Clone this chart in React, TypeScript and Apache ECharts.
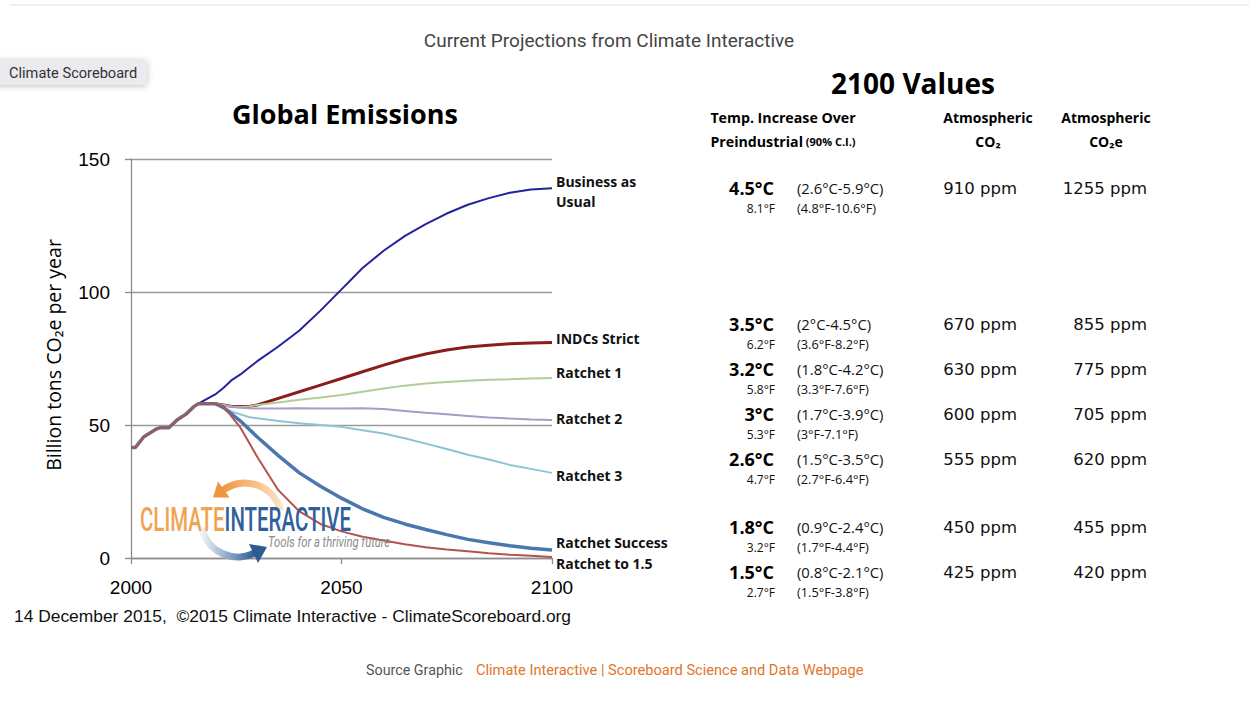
import React, { useEffect, useRef } from "react";
import * as echarts from "echarts";

// ---------- data ----------
const HIST_YEARS = [2000, 2001, 2002, 2003, 2004, 2005, 2006, 2007, 2008, 2009, 2010, 2011, 2012, 2013, 2014, 2015, 2016, 2017, 2018, 2019, 2020];
const HIST_VALUES = [41.5, 41.5, 43.5, 45.5, 46.5, 47.5, 48.5, 49, 49, 49, 50.5, 52, 53, 54, 55.5, 57, 58, 58, 58, 58, 58];

const PROJ_YEARS = [2020, 2022, 2024, 2026, 2028, 2030, 2035, 2040, 2045, 2050, 2055, 2060, 2065, 2070, 2075, 2080, 2085, 2090, 2095, 2100];
const BAU = [61.5, 64, 67, 69, 71.5, 74, 79.5, 85.5, 93, 101, 109, 115.5, 121, 125.5, 129.5, 132.8, 135.3, 137.3, 138.5, 139];
const INDCS_STRICT = [58, 57.5, 57, 57, 57, 57.5, 60, 62.5, 65, 67.5, 70, 72.5, 74.8, 76.7, 78.2, 79.3, 80, 80.5, 80.8, 81];
const RATCHET_1 = [58, 57.5, 57, 56.8, 57, 57.5, 58.5, 59.5, 60.3, 61.3, 62.5, 63.7, 64.8, 65.6, 66.2, 66.6, 67, 67.2, 67.5, 67.7];
const RATCHET_2 = [58, 57.3, 56.8, 56.5, 56.3, 56.2, 56.2, 56.3, 56.2, 56.2, 56.3, 56, 55.3, 54.6, 54, 53.4, 52.8, 52.4, 52.1, 51.9];
const RATCHET_3 = [58, 56.5, 55, 54, 53, 52.5, 51.5, 50.7, 50, 49.3, 48, 46.8, 45, 43, 41, 38.8, 37, 35, 33.5, 32];
const RATCHET_SUCCESS = [58, 56.5, 54, 51.5, 48.5, 45.5, 38.5, 32, 27, 22.5, 18.5, 15.3, 12.8, 10.7, 8.8, 7, 5.7, 4.6, 3.7, 3];
const RATCHET_15 = [58, 57, 53, 49, 43.5, 38, 25.5, 17.5, 12.8, 10, 8, 6.6, 5.2, 4, 3.2, 2.5, 1.8, 1.2, 0.8, 0.4];

const TICKS_X = [2000, 2050, 2100];

// 2100 values table
const TEMP_C = ["4.5°C", "3.5°C", "3.2°C", "3°C", "2.6°C", "1.8°C", "1.5°C"];
const TEMP_C_RANGE = ["(2.6°C-5.9°C)", "(2°C-4.5°C)", "(1.8°C-4.2°C)", "(1.7°C-3.9°C)", "(1.5°C-3.5°C)", "(0.9°C-2.4°C)", "(0.8°C-2.1°C)"];
const TEMP_F = ["8.1°F", "6.2°F", "5.8°F", "5.3°F", "4.7°F", "3.2°F", "2.7°F"];
const TEMP_F_RANGE = ["(4.8°F-10.6°F)", "(3.6°F-8.2°F)", "(3.3°F-7.6°F)", "(3°F-7.1°F)", "(2.7°F-6.4°F)", "(1.7°F-4.4°F)", "(1.5°F-3.8°F)"];
const CO2 = ["910 ppm", "670 ppm", "630 ppm", "600 ppm", "555 ppm", "450 ppm", "425 ppm"];
const CO2E = ["1255 ppm", "855 ppm", "775 ppm", "705 ppm", "620 ppm", "455 ppm", "420 ppm"];

// ---------- layout ----------
const ROW_Y = [188, 324, 369, 414, 459, 527, 572];
const OS = "'Open Sans', 'Noto Sans', sans-serif";
const ARIAL = "'Liberation Sans', Arial, sans-serif";
const ROBOTO = "Roboto, 'Liberation Sans', sans-serif";
const DV = "'DejaVu Sans', sans-serif";

function pairs(xs: number[], ys: number[]) {
  return xs.map((x, i) => [x, ys[i]]);
}

function txt(x: number, y: number, text: string, o: any = {}) {
  const align = o.align || "left";
  const v = o.verticalAlign || "middle";
  return {
    type: "text",
    x,
    y,
    z: 100,
    scaleX: o.scaleX || 1,
    style: {
      text,
      fill: o.fill || "#000",
      fontSize: o.fontSize || 14,
      fontFamily: o.fontFamily || OS,
      fontWeight: o.fontWeight || "normal",
      fontStyle: o.fontStyle || "normal",
      align,
      verticalAlign: v,
      textAlign: align,
      textVerticalAlign: v,
      rich: o.rich,
    },
  };
}

const rad = (d: number) => (d * Math.PI) / 180;

export default function App() {
  const ref = useRef<HTMLDivElement>(null);

  useEffect(() => {
    if (!ref.current) return;
    const chart = echarts.init(ref.current, undefined, { renderer: "svg" });

    const histPairs = pairs(HIST_YEARS, HIST_VALUES);
    const bauData = histPairs.filter((p) => p[0] <= 2016).concat(pairs(PROJ_YEARS, BAU));

    const mk = (name: string, data: any[], color: string, width: number, dy: number, formatter?: string) => ({
      name,
      type: "line",
      data,
      showSymbol: false,
      symbol: "none",
      lineStyle: { color, width },
      itemStyle: { color },
      emphasis: { disabled: true },
      endLabel: {
        show: true,
        formatter: formatter || name,
        distance: 4,
        offset: [0, dy],
        color: "#111",
        fontFamily: OS,
        fontWeight: "bold",
        fontSize: 14,
        lineHeight: 20,
        align: "left",
      },
    });

    const series = [
      mk("Business as Usual", bauData, "#2222a0", 2, 3, "Business as\nUsual"),
      mk("INDCs Strict", pairs(PROJ_YEARS, INDCS_STRICT), "#8b1c1c", 3, -4.5),
      mk("Ratchet 1", pairs(PROJ_YEARS, RATCHET_1), "#b3cd96", 2, -5),
      mk("Ratchet 2", pairs(PROJ_YEARS, RATCHET_2), "#a89bc8", 2, -1),
      mk("Ratchet 3", pairs(PROJ_YEARS, RATCHET_3), "#8ec2d8", 2, 3),
      mk("Ratchet Success", histPairs.concat(pairs(PROJ_YEARS.slice(1), RATCHET_SUCCESS.slice(1))), "#4a77ad", 3.5, -8),
      mk("Ratchet to 1.5", histPairs.concat(pairs(PROJ_YEARS.slice(1), RATCHET_15.slice(1))), "#b5524a", 2, 7),
    ];

    const graphic: any[] = [];
    // top faint line
    graphic.push({ type: "line", z: 1, shape: { x1: 10, y1: 5, x2: 1249, y2: 5 }, style: { stroke: "#f0f0f0", lineWidth: 2 } });
    // page title
    graphic.push(txt(609, 40, "Current Projections from Climate Interactive", { align: "center", fontSize: 19, fontFamily: ROBOTO, fill: "#444", scaleX: 1 }));
    // button
    graphic.push({
      type: "rect",
      z: 90,
      shape: { x: -10, y: 60, width: 157, height: 25, r: 3 },
      style: { fill: "#ebeaef", shadowBlur: 6, shadowColor: "rgba(0,0,0,0.25)", shadowOffsetY: 1 },
    });
    graphic.push(txt(9, 72.5, "Climate Scoreboard", { fontSize: 14.6, fontFamily: ROBOTO, fill: "#333" }));
    // chart title
    graphic.push(txt(345, 113, "Global Emissions", { align: "center", fontSize: 27, fontWeight: "bold", fill: "#000" }));
    // y-axis name
    graphic.push({
      ...txt(53, 355, "Billion tons CO₂e per year", { align: "center", fontSize: 19.5, fill: "#000" }),
      rotation: Math.PI / 2,
    });
    // footer under chart
    graphic.push(txt(14, 616, "14 December 2015,  ©2015 Climate Interactive - ClimateScoreboard.org", { fontSize: 17.4, fontFamily: ARIAL, fill: "#111" }));

    // logo arcs
    graphic.push({
      type: "arc",
      z: 95,
      shape: { cx: 245, cy: 520, r: 37, startAngle: rad(232), endAngle: rad(345), clockwise: true },
      style: {
        fill: "none",
        lineWidth: 7,
        stroke: new echarts.graphic.LinearGradient(0, 0, 1, 0, [
          { offset: 0, color: "#f0953e" },
          { offset: 1, color: "#fbe3c6" },
        ]),
      },
    });
    graphic.push({
      type: "polygon",
      z: 95,
      shape: { points: [[213, 497.5], [229.5, 497.5], [218, 481.5]] },
      style: { fill: "#f0953e" },
    });
    graphic.push({
      type: "arc",
      z: 95,
      shape: { cx: 238, cy: 520, r: 37, startAngle: rad(62), endAngle: rad(168), clockwise: true },
      style: {
        fill: "none",
        lineWidth: 7,
        stroke: new echarts.graphic.LinearGradient(0, 0, 1, 0, [
          { offset: 0, color: "#eef2f8" },
          { offset: 1, color: "#2b5c92" },
        ]),
      },
    });
    graphic.push({
      type: "polygon",
      z: 95,
      shape: { points: [[267, 547], [258, 563], [249, 544]] },
      style: { fill: "#2b5c92" },
    });
    graphic.push({
      ...txt(140, 520, "{a|CLIMATE}{b|INTERACTIVE}", {
        fontSize: 33,
        fontFamily: ROBOTO,
        scaleX: 0.62,
        rich: {
          a: { fontSize: 33, fontFamily: ROBOTO, fontWeight: 500, fill: "#f0a452", color: "#f0a452" },
          b: { fontSize: 33, fontFamily: ROBOTO, fontWeight: 500, fill: "#2e609a", color: "#2e609a" },
        },
      }),
      z: 100,
    });
    graphic.push(txt(268, 542, "Tools for a thriving future", { fontSize: 15, fontFamily: ROBOTO, fontStyle: "italic", fill: "#8a8a8a", scaleX: 0.75 }));

    // 2100 values table
    graphic.push(txt(913, 83, "2100 Values", { align: "center", fontSize: 28, fontWeight: "bold" }));
    graphic.push(txt(783, 117, "Temp. Increase Over", { align: "center", fontSize: 14.2, fontWeight: "bold" }));
    graphic.push(
      txt(783, 141, "{b|Preindustrial}{s| (90% C.I.)}", {
        align: "center",
        fontSize: 14.2,
        fontWeight: "bold",
        rich: {
          b: { fontSize: 14.2, fontWeight: "bold", fontFamily: OS, fill: "#000", color: "#000" },
          s: { fontSize: 11, fontWeight: "bold", fontFamily: OS, fill: "#000", color: "#000" },
        },
      })
    );
    graphic.push(txt(988, 117, "Atmospheric", { align: "center", fontSize: 14, fontWeight: "bold" }));
    graphic.push(txt(988, 141, "CO₂", { align: "center", fontSize: 14, fontWeight: "bold" }));
    graphic.push(txt(1106, 117, "Atmospheric", { align: "center", fontSize: 14, fontWeight: "bold" }));
    graphic.push(txt(1106, 141, "CO₂e", { align: "center", fontSize: 14, fontWeight: "bold" }));

    ROW_Y.forEach((y, i) => {
      graphic.push(txt(774, y, TEMP_C[i], { align: "right", fontSize: 18, fontWeight: "bold" }));
      graphic.push(txt(797, y, TEMP_C_RANGE[i], { fontSize: 14.8, fill: "#111" }));
      graphic.push(txt(775, y + 20, TEMP_F[i], { align: "right", fontSize: 12, fill: "#111" }));
      graphic.push(txt(797, y + 20, TEMP_F_RANGE[i], { fontSize: 12.8, fill: "#111" }));
      graphic.push(txt(1017, y, CO2[i], { align: "right", fontSize: 16.5, fontFamily: DV, fill: "#111" }));
      graphic.push(txt(1147, y, CO2E[i], { align: "right", fontSize: 16.5, fontFamily: DV, fill: "#111" }));
    });

    // bottom source line
    graphic.push(txt(366, 670, "Source Graphic", { fontSize: 14.3, fontFamily: ROBOTO, fill: "#555" }));
    graphic.push(txt(476, 670, "Climate Interactive | Scoreboard Science and Data Webpage", { fontSize: 14.6, fontFamily: ROBOTO, fill: "#e0762c" }));

    const option: any = {
      animation: false,
      backgroundColor: "#ffffff",
      grid: { left: 131, top: 159, width: 421, height: 399, containLabel: false },
      xAxis: {
        type: "value",
        min: TICKS_X[0],
        max: TICKS_X[TICKS_X.length - 1],
        interval: 50,
        axisLine: { show: true, onZero: false, lineStyle: { color: "#8c8c8c", width: 1.3 } },
        axisTick: { show: true, length: 6, lineStyle: { color: "#8c8c8c", width: 1.3 } },
        axisLabel: {
          show: true,
          fontSize: 19,
          color: "#000",
          fontFamily: ARIAL,
          margin: 20,
          showMinLabel: true,
          showMaxLabel: true,
          formatter: (v: number) => String(v),
        },
        splitLine: { show: false },
      },
      yAxis: {
        type: "value",
        min: 0,
        max: 150,
        interval: 50,
        axisLine: { show: true, lineStyle: { color: "#8c8c8c", width: 1.3 } },
        axisTick: { show: true, length: 6, lineStyle: { color: "#8c8c8c", width: 1.3 } },
        axisLabel: { show: true, fontSize: 19, color: "#000", fontFamily: ARIAL, margin: 21 },
        splitLine: { show: true, lineStyle: { color: "#9a9a9a", width: 1.3 } },
      },
      series,
      graphic,
    };

    chart.setOption(option);
    return () => {
      chart.dispose();
    };
  }, []);

  return <div ref={ref} style={{ position: "absolute", left: 0, top: 0, width: 1249, height: 704 }} />;
}
